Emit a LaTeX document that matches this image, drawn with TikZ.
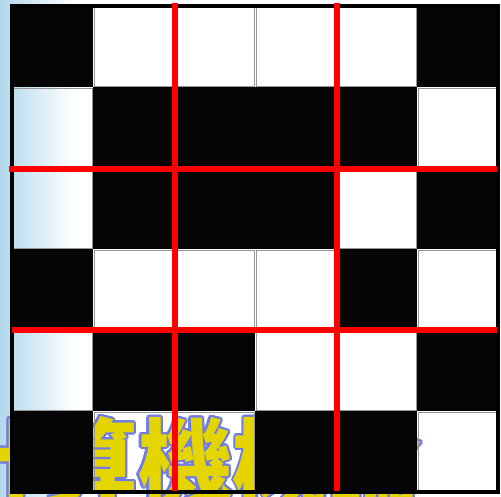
\documentclass[tikz,border=0pt]{standalone}
\usepackage{fontspec}
\usepackage{contour}
\newfontfamily\cjk{Noto Sans CJK TC}
\contourlength{1.2pt}

\definecolor{hgblau}{RGB}{178,216,236}
\definecolor{titelgelb}{RGB}{228,212,0}
\definecolor{titelrand}{RGB}{112,124,228}
\definecolor{gitter}{RGB}{150,150,150}

\begin{document}
\begin{tikzpicture}[
    x=0.02cm, y=-0.02cm,
    schwarz/.style={fill=black!98},
    weiss/.style={draw=gitter, line width=0.4pt},
    rahmen/.style={draw=black, line width=2.2pt},
    rot/.style={draw=red, line width=2.9pt}, % Style für die roten Trennlinien
    titel/.style={anchor=north west, inner sep=0pt, text=titelgelb,
                  font=\cjk\bfseries\fontsize{54pt}{54pt}\selectfont}
]
\useasboundingbox (0,0) rectangle (501,497);
\fill[white] (0,0) rectangle (501,497);
\shade[left color=hgblau, middle color=hgblau!12, right color=white] (0,0) rectangle (75,497);

\node[titel] (titel) at (-52,416) {\contour{titelrand}{計算機概論}};

\foreach \zeile/\muster in {0/{1,0,0,0,0,1}, 1/{0,1,1,1,1,0}, 2/{0,1,1,1,0,1},
                            3/{1,0,0,0,1,0}, 4/{0,1,1,0,0,1}, 5/{1,0,0,1,1,0}}
  \foreach \w [count=\spalte from 0] in \muster {
    \ifnum\w=1
      \fill[schwarz] (12+81*\spalte,6+81*\zeile) rectangle ++(81,81);
    \else
      \draw[weiss] (13+81*\spalte,7+81*\zeile) rectangle ++(79,79);
    \fi
  };

\draw[rahmen] (12,6) rectangle (498,492);

\draw[rot] (175,3) -- (175,491);
\draw[rot] (337,3) -- (337,491);
\draw[rot] (9,169) -- (497,169);
\draw[rot] (12,330) -- (497,330);
\end{tikzpicture}
\end{document}
